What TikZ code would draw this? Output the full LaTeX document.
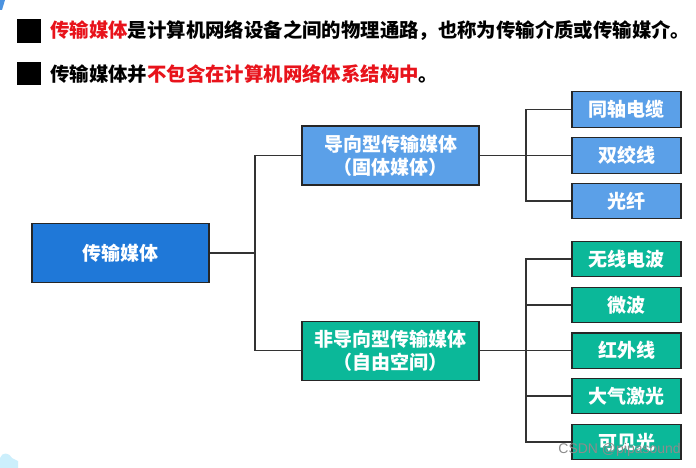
\documentclass[tikz,border=0pt]{standalone}
\usepackage{fontspec}
\setmainfont{Noto Sans CJK SC}
\newfontfamily\wmfont{Liberation Sans}
\definecolor{mainblue}{HTML}{1F78D8}
\definecolor{lightblue}{HTML}{5BA0E8}
\definecolor{teal}{HTML}{0BB899}
\definecolor{hred}{HTML}{E8131B}
\definecolor{linec}{HTML}{333333}
\tikzset{
  box/.style={draw=black!85, line width=1.2pt, text=white, font=\fontsize{19}{23}\selectfont\bfseries, align=center, inner sep=0pt},
  rootbox/.style={box, fill=mainblue, minimum width=177pt, minimum height=59pt},
  midbox/.style={box, minimum width=177pt, minimum height=59pt},
  leafbox/.style={box, minimum width=109pt, minimum height=35.5pt},
  conn/.style={draw=linec, line width=1.3pt},
  head/.style={anchor=west, inner sep=0pt, font=\fontsize{19.4}{24}\selectfont\bfseries}
}
\begin{document}
\begin{tikzpicture}[x=1pt,y=-1pt]
\useasboundingbox (0,0) rectangle (696,468);
\fill[white] (0,0) rectangle (696,468);
% corner fragments
\fill[mainblue!80] (0,0) -- (5,0) -- (2,10) -- (0,10) -- cycle;
\fill[cyan!20] (0,468) -- (0,458) .. controls (2,452) and (9,452) .. (12,458) -- (18,461) -- (18,468) -- cycle;
% header
\fill[black] (17,19) rectangle (41,43);
\node[head] (h1) at (50,31) {\textcolor{hred}{传输媒体}是计算机网络设备之间的物理通路，也称为传输介质或传输媒介。};
\fill[black] (17,62) rectangle (41,85);
\node[head] (h2) at (50,74) {传输媒体并\textcolor{hred}{不包含在计算机网络体系结构中}。};
% nodes
\node[rootbox] (root) at (120.5,253) {传输媒体};
\node[midbox, fill=lightblue] (guided) at (390.5,155.5) {导向型传输媒体\\（固体媒体）};
\node[midbox, fill=teal] (unguided) at (390.5,350.7) {非导向型传输媒体\\（自由空间）};
\node[leafbox, fill=lightblue] (g1) at (626.5,109.5) {同轴电缆};
\node[leafbox, fill=lightblue] (g2) at (626.5,155.5) {双绞线};
\node[leafbox, fill=lightblue] (g3) at (626.5,201) {光纤};
\node[leafbox, fill=teal] (u1) at (626.5,259) {无线电波};
\node[leafbox, fill=teal] (u2) at (626.5,305) {微波};
\node[leafbox, fill=teal] (u3) at (626.5,350.7) {红外线};
\node[leafbox, fill=teal] (u4) at (626.5,396) {大气激光};
\node[leafbox, fill=teal] (u5) at (626.5,442) {可见光};
% connectors
\coordinate (j1) at (255,253);
\coordinate (j2) at (526,155.5);
\coordinate (j3) at (526,350.7);
\draw[conn] (root.east) -- (j1);
\draw[conn] (j1) |- (guided.west);
\draw[conn] (j1) |- (unguided.west);
\draw[conn] (guided.east) -- (j2);
\foreach \n in {g1,g2,g3} \draw[conn] (j2) |- (\n.west);
\draw[conn] (unguided.east) -- (j3);
\foreach \n in {u1,u2,u3,u4,u5} \draw[conn] (j3) |- (\n.west);
% watermark
\node[anchor=east, inner sep=0pt, text=black!45, font=\wmfont\fontsize{14}{16}\selectfont] (wm) at (681,450) {CSDN @pipasound};
\end{tikzpicture}
\end{document}
